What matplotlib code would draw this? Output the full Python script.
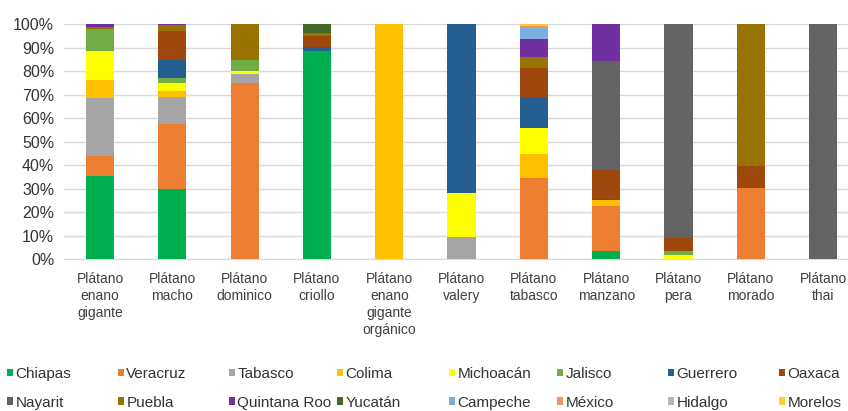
import matplotlib.pyplot as plt
from matplotlib.patches import Patch
from matplotlib.ticker import PercentFormatter

plt.rcParams['font.family'] = ['Liberation Sans', 'DejaVu Sans']

varieties = ['Plátano\nenano\ngigante', 'Plátano\nmacho', 'Plátano\ndominico', 'Plátano\ncriollo',
             'Plátano\nenano\ngigante\norgánico', 'Plátano\nvalery', 'Plátano\ntabasco',
             'Plátano\nmanzano', 'Plátano\npera', 'Plátano\nmorado', 'Plátano\nthai']

# share of production per state (%), one value per variety
chiapas = [35.3, 29.9, 0, 88.6, 0, 0, 0, 3.3, 0, 0, 0]
veracruz = [8.4, 27.4, 74.7, 0, 0, 0, 34.6, 19.2, 0, 30.3, 0]
tabasco = [24.9, 11.7, 4.0, 0, 0, 9.5, 0, 0, 0, 0, 0]
colima = [7.4, 2.4, 0, 0, 100, 0, 10.2, 2.4, 0, 0, 0]
michoacan = [12.5, 3.6, 1.1, 0, 0, 18.5, 11.1, 0, 1.8, 0, 0]
jalisco = [9.5, 2.1, 4.8, 0, 0, 0, 0, 0, 1.5, 0, 0]
guerrero = [0, 7.5, 0, 1.7, 0, 72.0, 13.1, 0.6, 0, 0, 0]
oaxaca = [0, 12.4, 0, 4.6, 0, 0, 12.1, 12.2, 5.5, 9.2, 0]
nayarit = [0, 0, 0, 0, 0, 0, 0, 46.5, 91.2, 0, 100]
puebla = [0.8, 2.5, 15.4, 1.4, 0, 0, 4.7, 0, 0, 60.5, 0]
quintana_roo = [1.2, 0.5, 0, 0, 0, 0, 7.7, 15.8, 0, 0, 0]
yucatan = [0, 0, 0, 3.7, 0, 0, 0, 0, 0, 0, 0]
campeche = [0, 0, 0, 0, 0, 0, 4.6, 0, 0, 0, 0]
mexico = [0, 0, 0, 0, 0, 0, 1.0, 0, 0, 0, 0]
hidalgo = [0, 0, 0, 0, 0, 0, 0, 0, 0, 0, 0]
morelos = [0, 0, 0, 0, 0, 0, 0.9, 0, 0, 0, 0]

states = ['Chiapas', 'Veracruz', 'Tabasco', 'Colima', 'Michoacán', 'Jalisco', 'Guerrero', 'Oaxaca',
          'Nayarit', 'Puebla', 'Quintana Roo', 'Yucatán', 'Campeche', 'México', 'Hidalgo', 'Morelos']
series = [chiapas, veracruz, tabasco, colima, michoacan, jalisco, guerrero, oaxaca,
          nayarit, puebla, quintana_roo, yucatan, campeche, mexico, hidalgo, morelos]
colors = ['#00B050', '#ED7D31', '#A5A5A5', '#FFC000', '#FFFF00', '#70AD47', '#255E91', '#9E480E',
          '#636363', '#997300', '#7030A0', '#43682B', '#7CAFDD', '#F1975A', '#B7B7B7', '#FFCD33']

fig = plt.figure(figsize=(8.48, 4.11), dpi=100)
# plot area runs a little past the right edge of the figure
ax = fig.add_axes([0.0753, 0.3698, 0.938, 0.5718])

x = list(range(len(varieties)))
bottom = [0.0] * len(varieties)
for name, vals, c in zip(states, series, colors):
    ax.bar(x, vals, width=0.39, bottom=bottom, color=c, label=name, zorder=3)
    bottom = [b + v for b, v in zip(bottom, vals)]

ax.set_xlim(-0.5, len(varieties) - 0.5)
ax.set_ylim(0, 100)
ax.set_yticks(range(0, 101, 10))
ax.yaxis.set_major_formatter(PercentFormatter(decimals=0))
ax.set_xticks(x)
ax.set_xticklabels(varieties, fontsize=10, color='#404040', linespacing=1.3)
ax.tick_params(axis='y', labelsize=11.5, labelcolor='#333333', length=0, pad=7)
ax.tick_params(axis='x', length=0, pad=9)
ax.grid(axis='y', color='#D9D9D9', linewidth=1, zorder=0)
for s in ['top', 'right', 'left']:
    ax.spines[s].set_visible(False)
ax.spines['bottom'].set_color('#D9D9D9')

# legend laid out as 8 evenly spaced columns of two entries
col_x = [7, 118, 229, 337, 449, 557, 668, 779]
for i, cx in enumerate(col_x):
    handles = [Patch(facecolor=colors[i], label=states[i]),
               Patch(facecolor=colors[i + 8], label=states[i + 8])]
    fig.legend(handles=handles, loc='upper left', bbox_to_anchor=(cx / 848, 1 - 367 / 411),
               frameon=False, fontsize=11, borderpad=0, borderaxespad=0,
               handlelength=0.4, handleheight=0.4, handletextpad=0.15,
               labelspacing=0.95, labelcolor='#333333')

fig.savefig('out.png', dpi=100)
